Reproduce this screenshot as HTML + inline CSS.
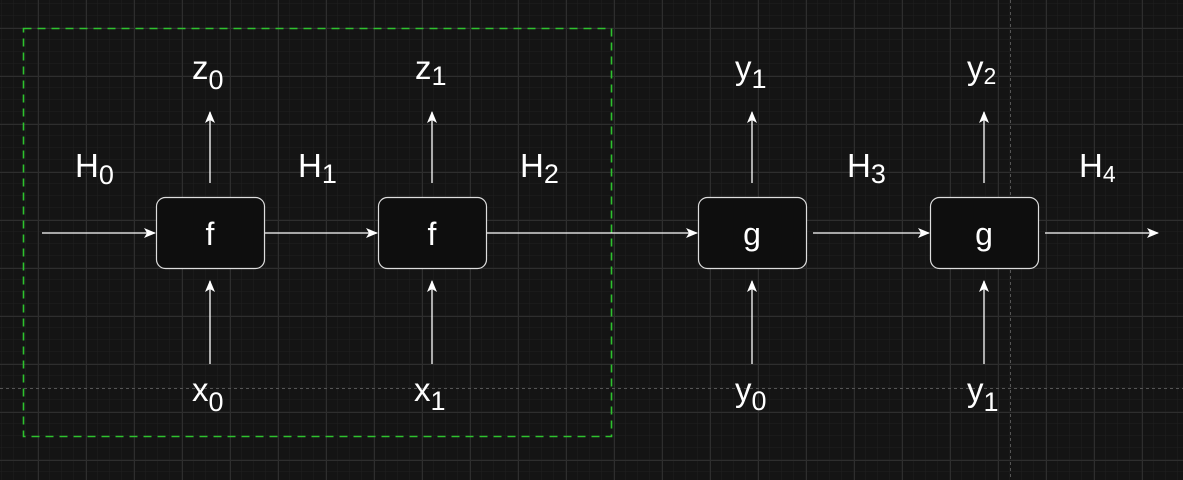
<!DOCTYPE html>
<html><head><meta charset="utf-8"><style>
html,body{margin:0;padding:0;background:#141414;}
svg{display:block}
text{font-family:"Liberation Sans",Arial,sans-serif;fill:#fff}
</style></head><body>
<svg width="1183" height="480" viewBox="0 0 1183 480" xmlns="http://www.w3.org/2000/svg">
<defs>
<pattern id="minor" x="2" y="4" width="12" height="12" patternUnits="userSpaceOnUse">
<path d="M12 0V12M0 12H12" stroke="#202020" stroke-width="1" fill="none"/>
</pattern>
<pattern id="major" x="38" y="28" width="48" height="48" patternUnits="userSpaceOnUse">
<path d="M0.5 0V48M0 0.5H48" stroke="#2e2e2e" stroke-width="1" fill="none"/>
</pattern>
<marker id="ah" markerWidth="12" markerHeight="10" refX="11" refY="5" orient="auto" markerUnits="userSpaceOnUse">
<path d="M0 0L12 5L0 10L3 5Z" fill="#fff"/>
</marker>
</defs>
<rect width="1183" height="480" fill="#141414"/>
<rect width="1183" height="480" fill="url(#minor)"/>
<rect width="1183" height="480" fill="url(#major)"/>
<path d="M1010.5 0V480M0 388.5H1183" stroke="#555" stroke-dasharray="3,3" fill="none"/>
<rect x="23.5" y="28.5" width="588" height="408" fill="none" stroke="#2ec22e" stroke-width="1.6" stroke-dasharray="8,6"/>

<g stroke="#fff" stroke-width="1.3" fill="none">
<line x1="42" y1="233" x2="155" y2="233" marker-end="url(#ah)"/>
<line x1="265" y1="233" x2="377" y2="233" marker-end="url(#ah)"/>
<line x1="487" y1="233" x2="697" y2="233" marker-end="url(#ah)"/>
<line x1="813" y1="233" x2="929" y2="233" marker-end="url(#ah)"/>
<line x1="1045" y1="233" x2="1158" y2="233" marker-end="url(#ah)"/>
<line x1="210" y1="183" x2="210" y2="112" marker-end="url(#ah)"/>
<line x1="432" y1="183" x2="432" y2="112" marker-end="url(#ah)"/>
<line x1="752" y1="183" x2="752" y2="112" marker-end="url(#ah)"/>
<line x1="984" y1="183" x2="984" y2="112" marker-end="url(#ah)"/>
<line x1="210" y1="364" x2="210" y2="281" marker-end="url(#ah)"/>
<line x1="432" y1="364" x2="432" y2="281" marker-end="url(#ah)"/>
<line x1="752" y1="364" x2="752" y2="281" marker-end="url(#ah)"/>
<line x1="984" y1="364" x2="984" y2="281" marker-end="url(#ah)"/>
</g>
<g fill="#0e0e0e" stroke="#ddd" stroke-width="1.2">
<rect x="156.5" y="197.5" width="108" height="71" rx="9"/>
<rect x="378.5" y="197.5" width="108" height="71" rx="9"/>
<rect x="698.5" y="197.5" width="108" height="71" rx="9"/>
<rect x="930.5" y="197.5" width="108" height="71" rx="9"/>
</g>
<g font-size="32" text-anchor="middle">
<text x="210" y="245">f</text>
<text x="432" y="245">f</text>
<text x="752" y="245">g</text>
<text x="984" y="245">g</text>
</g>
<g font-size="33">
<text x="75" y="177">H<tspan font-size="27" dy="7">0</tspan></text>
<text x="298" y="177">H<tspan font-size="27" dy="6">1</tspan></text>
<text x="520" y="177">H<tspan font-size="27" dy="6">2</tspan></text>
<text x="847" y="177">H<tspan font-size="27" dy="6">3</tspan></text>
<text x="1079" y="177">H<tspan font-size="23" dy="5">4</tspan></text>
<text x="192" y="79">z<tspan font-size="27" dy="10">0</tspan></text>
<text x="415" y="79">z<tspan font-size="27" dy="6">1</tspan></text>
<text x="735" y="79">y<tspan font-size="27" dy="9">1</tspan></text>
<text x="967" y="79">y<tspan font-size="23" dy="5">2</tspan></text>
<text x="192" y="401">x<tspan font-size="27" dy="10">0</tspan></text>
<text x="414" y="401">x<tspan font-size="27" dy="9">1</tspan></text>
<text x="735" y="401">y<tspan font-size="27" dy="9">0</tspan></text>
<text x="967" y="401">y<tspan font-size="27" dy="10">1</tspan></text>
</g>
</svg>
</body></html>
